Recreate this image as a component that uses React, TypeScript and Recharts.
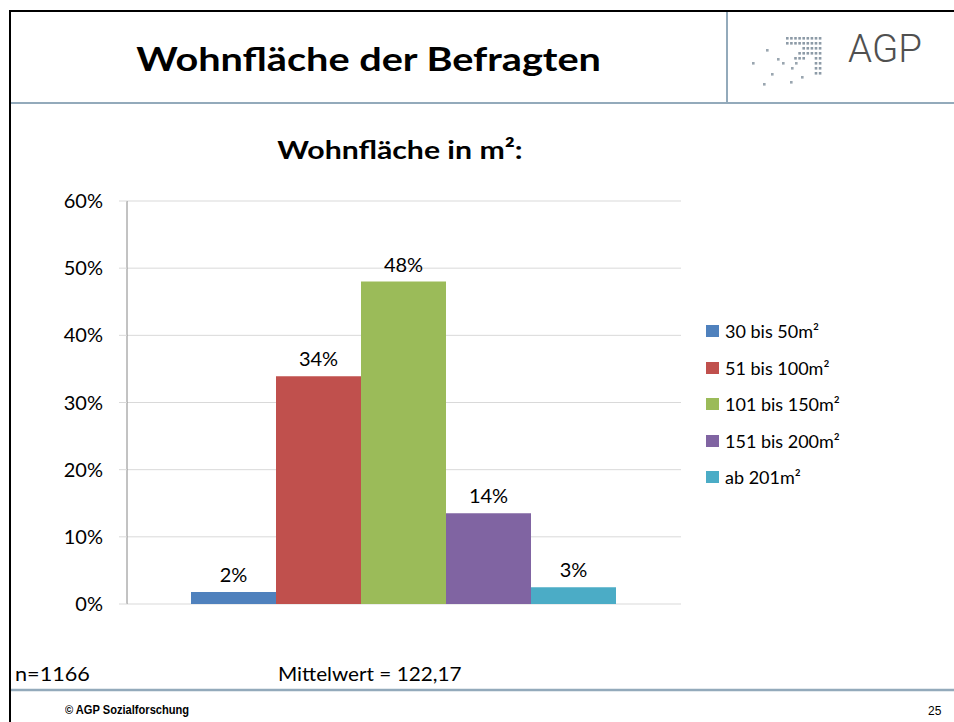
import { BarChart, Bar, XAxis, YAxis, CartesianGrid, Legend, LabelList } from 'recharts';

// survey answers, share of respondents in percent
const categories = ['Wohnfläche'];
const seriesNames = ['30 bis 50m²', '51 bis 100m²', '101 bis 150m²', '151 bis 200m²', 'ab 201m²'];
const seriesValues = [1.8, 33.9, 48.0, 13.5, 2.5];
const seriesColors = ['#4f81bd', '#c0504d', '#9bbb59', '#8064a2', '#4bacc6'];
const yTicks = [0, 10, 20, 30, 40, 50, 60];

const chartData = categories.map((c) => {
  const row: any = { name: c };
  seriesNames.forEach((s, i) => {
    row[`s${i}`] = seriesValues[i];
  });
  return row;
});

const FONT = 'Lato, "Open Sans", sans-serif';
const LINE = '#93aabb';

// logo dots (decoration only)
const logoGrid: [number, number[]][] = [
  [37, [0, 1, 2, 3, 4, 5, 6, 7, 8]],
  [42, [0, 1, 2, 3, 4, 5, 6, 7, 8]],
  [47, [4, 5, 6, 7, 8]],
  [52, [3, 4, 5, 6, 7, 8]],
  [57, [2, 3, 4, 7, 8]],
  [62, [7, 8]],
  [67, [7, 8]],
  [72, [7, 8]],
];
const logoScatter = [
  [766, 49], [752, 62], [777, 58], [782, 62], [795, 62],
  [791, 67], [771, 73], [801, 76], [790, 81], [763, 83],
];

const LegendBox = ({ payload }: any) => {
  // keep the series order, not the alphabetical one
  const items = [...(payload || [])].sort(
    (a: any, b: any) => seriesNames.indexOf(a.value) - seriesNames.indexOf(b.value)
  );
  return (
    <div style={{ fontFamily: FONT, fontSize: 18, color: '#000' }}>
      {items.map((p: any) => (
        <div key={p.value} style={{ display: 'flex', alignItems: 'center', height: 36.5 }}>
          <span style={{ width: 13, height: 12, background: p.color, marginRight: 6, display: 'inline-block' }} />
          <span>{p.value}</span>
        </div>
      ))}
    </div>
  );
};

const Logo = () => {
  const dots: JSX.Element[] = [];
  logoGrid.forEach(([y, cols]) => {
    cols.forEach((c) => {
      dots.push(<rect key={`g${y}-${c}`} x={786 + c * 4.1} y={y} width={2.6} height={2.6} fill="#8d9ba7" />);
    });
  });
  logoScatter.forEach(([x, y], i) => {
    dots.push(<rect key={`s${i}`} x={x} y={y} width={2.6} height={2.6} fill="#9aa6b0" />);
  });
  return <g>{dots}</g>;
};

const wide = (k: number, origin = 'left center') => ({ transform: `scaleX(${k})`, transformOrigin: origin });

const App = () => {
  return (
    <div style={{ position: 'fixed', left: 0, top: 0, width: 954, height: 722, background: '#fff', overflow: 'hidden' }}>
      {/* slide frame */}
      <svg width={954} height={722} style={{ position: 'absolute', left: 0, top: 0 }}>
        <line x1={10} y1={11} x2={954} y2={11} stroke="#000" strokeWidth={2} />
        <line x1={10} y1={10} x2={10} y2={722} stroke="#000" strokeWidth={2} />
        <line x1={11} y1={103} x2={954} y2={103} stroke={LINE} strokeWidth={2} />
        <line x1={727} y1={12} x2={727} y2={103} stroke={LINE} strokeWidth={2} />
        <line x1={11} y1={690} x2={954} y2={690} stroke={LINE} strokeWidth={2.5} />
        <Logo />
        <text x={885} y={62} textAnchor="middle" fontFamily='Roboto, "DejaVu Sans", sans-serif' fontWeight={300} fontSize={38.5} fill="#505050">
          AGP
        </text>
      </svg>

      <div style={{ position: 'absolute', left: 10, width: 717, top: 38, textAlign: 'center', fontFamily: FONT, fontWeight: 700, fontSize: 33.3, lineHeight: '40px', color: '#000', ...wide(1.19, '358px center') }}>
        Wohnfläche der Befragten
      </div>

      <div style={{ position: 'absolute', left: 200, width: 400, top: 133, textAlign: 'center', fontFamily: FONT, fontWeight: 700, fontSize: 25.4, lineHeight: '32px', color: '#000', ...wide(1.19, '200px center') }}>
        Wohnfläche in m²:
      </div>

      <div style={{ position: 'absolute', left: 0, top: 0 }}>
        <BarChart
          width={954}
          height={722}
          data={chartData}
          margin={{ top: 201, right: 273, bottom: 118, left: 50 }}
          barGap={0}
          barCategoryGap={64}
        >
          <CartesianGrid horizontal vertical={false} stroke="#d9d9d9" />
          <XAxis dataKey="name" tick={false} tickLine={false} height={0} axisLine={{ stroke: '#868686' }} />
          <YAxis
            width={77}
            domain={[0, 60]}
            ticks={yTicks}
            interval={0}
            tickFormatter={(v) => `${v}%`}
            axisLine={{ stroke: '#868686' }}
            tickLine={{ stroke: '#d9d9d9' }}
            tickSize={8}
            tickMargin={16}
            tick={{ fill: '#000', fontSize: 20, fontFamily: FONT }}
          />
          <Legend
            layout="vertical"
            align="center"
            verticalAlign="middle"
            content={<LegendBox />}
            wrapperStyle={{ position: 'absolute', left: 706, top: 313, width: 220, height: 190 }}
          />
          {seriesNames.map((s, i) => (
            <Bar key={s} dataKey={`s${i}`} name={s} fill={seriesColors[i]} isAnimationActive={false}>
              <LabelList
                dataKey={`s${i}`}
                position="top"
                offset={10}
                formatter={(v: any) => `${Math.round(Number(v))}%`}
                style={{ fill: '#000', fontSize: 20, fontFamily: FONT }}
              />
            </Bar>
          ))}
        </BarChart>
      </div>

      <div style={{ position: 'absolute', left: 15, top: 662, fontFamily: FONT, fontSize: 18.5, lineHeight: '24px', color: '#000', ...wide(1.17) }}>
        n=1166
      </div>
      <div style={{ position: 'absolute', left: 278, top: 662, fontFamily: FONT, fontSize: 18.5, lineHeight: '24px', color: '#000', ...wide(1.12) }}>
        Mittelwert = 122,17
      </div>

      <div style={{ position: 'absolute', left: 65, top: 702, fontFamily: '"Liberation Sans", Arial, sans-serif', fontWeight: 700, fontSize: 12, lineHeight: '16px', color: '#000', ...wide(0.925) }}>
        © AGP Sozialforschung
      </div>
      <div style={{ position: 'absolute', left: 928, top: 703, fontFamily: '"Liberation Sans", Arial, sans-serif', fontSize: 12, lineHeight: '16px', color: '#000' }}>
        25
      </div>
    </div>
  );
};

export default App;
